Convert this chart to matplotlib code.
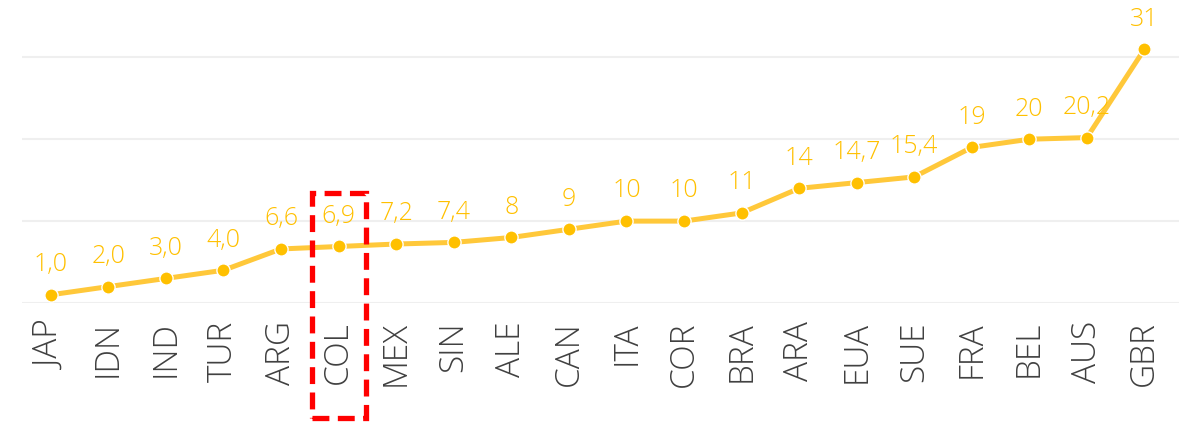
" 指標の折れ線グラフ (COL 強調) "
import matplotlib
matplotlib.use('Agg')
import matplotlib.pyplot as plt
from matplotlib.patches import Rectangle

matplotlib.rcParams['font.family'] = ['Open Sans', 'DejaVu Sans']

COUNTRIES = ['JAP', 'IDN', 'IND', 'TUR', 'ARG', 'COL', 'MEX', 'SIN', 'ALE', 'CAN',
             'ITA', 'COR', 'BRA', 'ARA', 'EUA', 'SUE', 'FRA', 'BEL', 'AUS', 'GBR']
VALUES = [1.0, 2.0, 3.0, 4.0, 6.6, 6.9, 7.2, 7.4, 8, 9,
          10, 10, 11, 14, 14.7, 15.4, 19, 20, 20.2, 31]
LABELS = ['1,0', '2,0', '3,0', '4,0', '6,6', '6,9', '7,2', '7,4', '8', '9',
          '10', '10', '11', '14', '14,7', '15,4', '19', '20', '20,2', '31']
HIGHLIGHT = 'COL'

LINE_COLOR = '#FFC83A'
MARKER_COLOR = '#FFC000'
TEXT_COLOR = '#404040'

if __name__ == "__main__":
    fig = plt.figure(figsize=(11.79, 4.25), dpi=100)
    ax = fig.add_axes([22 / 1179, 122 / 425, 1 - 22 / 1179, 303 / 425])

    x = list(range(len(COUNTRIES)))
    ax.plot(x, VALUES, color=LINE_COLOR, linewidth=3.6, marker='o', markersize=9.5,
            markerfacecolor=MARKER_COLOR, markeredgecolor='white', markeredgewidth=1.0,
            solid_capstyle='round', zorder=3)
    for xi, v, lab in zip(x, VALUES, LABELS):
        ax.annotate(lab, (xi, v), xytext=(0, 17), textcoords='offset points',
                    ha='center', va='baseline', fontsize=18, fontweight='light',
                    color=MARKER_COLOR, annotation_clip=False)

    ax.set_xlim(-0.5, 19.6)
    ax.set_ylim(0, 37)
    ax.set_yticks([0, 10, 20, 30])
    ax.yaxis.grid(True, color='#EFEFEF', linewidth=1.5)
    ax.set_axisbelow(True)
    ax.set_yticklabels([])
    ax.tick_params(axis='y', length=0)
    ax.set_xticks(x)
    ax.set_xticklabels(COUNTRIES, rotation=90, fontsize=24, fontweight='light', color=TEXT_COLOR)
    ax.tick_params(axis='x', length=0, pad=13)
    for s in ax.spines.values():
        s.set_visible(False)

    # COL を赤の破線枠で囲む
    hi = COUNTRIES.index(HIGHLIGHT)
    rect = Rectangle((hi - 0.47, -14.0), 0.94, 27.4, fill=False, edgecolor='#FF0000',
                     linewidth=3.8, linestyle=(0, (3.2, 1.6)), clip_on=False, zorder=4)
    ax.add_patch(rect)

    fig.savefig('out.png', dpi=100)
    plt.close()
